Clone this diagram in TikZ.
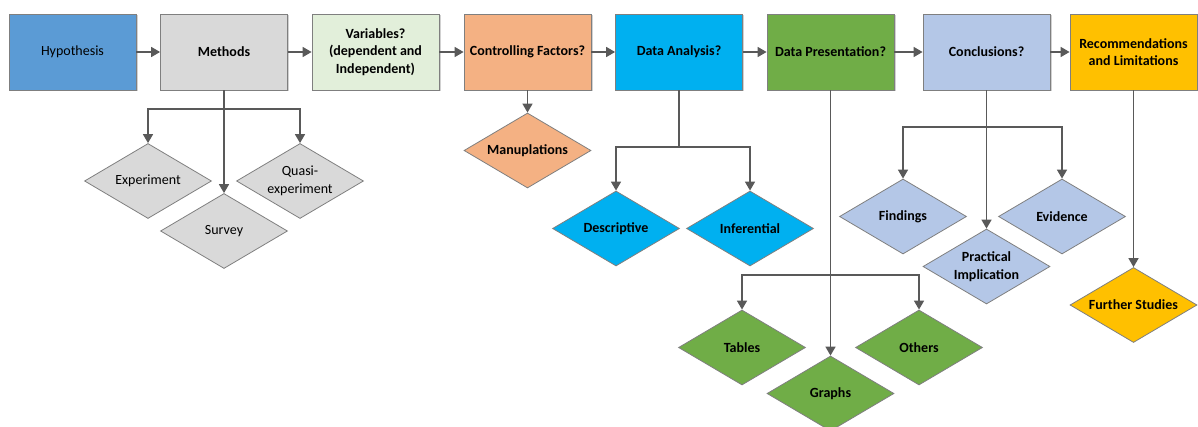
\documentclass[tikz,border=0pt]{standalone}
\usepackage{fontspec}
\setmainfont{Carlito}
\usetikzlibrary{shapes.geometric,arrows.meta,shadows}
\definecolor{boxline}{HTML}{7F7F7F}
\definecolor{conn}{HTML}{595959}
\definecolor{cHyp}{HTML}{5B9BD5}
\definecolor{cMeth}{HTML}{D9D9D9}
\definecolor{cVar}{HTML}{E2EFDA}
\definecolor{cCtrl}{HTML}{F4B183}
\definecolor{cDA}{HTML}{00B0F0}
\definecolor{cDP}{HTML}{70AD47}
\definecolor{cConc}{HTML}{B4C7E7}
\definecolor{cRec}{HTML}{FFC000}
\begin{document}
\begin{tikzpicture}[x=1pt,y=-1pt,
  txt/.style={font=\fontsize{14}{17.5}\selectfont},
  btxt/.style={font=\fontsize{14}{17.5}\selectfont\bfseries},
  box/.style={draw=boxline, line width=0.8pt, minimum width=127pt, minimum height=76pt,
    inner sep=2pt, align=center, btxt,
    drop shadow={shadow xshift=1.5pt, shadow yshift=-1.5pt, opacity=0.18, fill=black}},
  dia/.style={draw=boxline, line width=0.8pt, shape=diamond, minimum width=127pt,
    minimum height=75pt, inner sep=0pt},
  lab/.style={align=center, btxt},
  nlab/.style={align=center, txt},
  ln/.style={draw=conn, line width=1.6pt},
  arr/.style={ln, -{Triangle[length=9pt,width=10pt]}}
]
\useasboundingbox (0,0) rectangle (1198,427);

% main sequence of steps
\node[box, fill=cHyp, txt] (hyp) at (72.5,52) {Hypothesis};
\node[box, fill=cMeth] (meth) at (224,52) {Methods};
\node[box, fill=cVar] (var) at (375.5,52) {Variables?\\(dependent and\\Independent)};
\node[box, fill=cCtrl] (ctrl) at (527.5,52) {Controlling Factors?};
\node[box, fill=cDA] (da) at (679,52) {Data Analysis?};
\node[box, fill=cDP] (dp) at (830.5,52) {Data Presentation?};
\node[box, fill=cConc] (conc) at (986.5,52) {Conclusions?};
\node[box, fill=cRec] (rec) at (1133.5,52) {Recommendations\\and Limitations};

% sub-items
\node[dia, fill=cMeth, label={[nlab]center:Experiment}] (exp) at (148,181) {};
\node[dia, fill=cMeth, label={[nlab]center:Quasi-\\experiment}] (quasi) at (300,181) {};
\node[dia, fill=cMeth, label={[nlab]center:Survey}] (survey) at (224,231) {};

\node[dia, fill=cCtrl, label={[lab]center:Manuplations}] (manu) at (527.5,150.5) {};

\node[dia, fill=cDA, label={[lab]center:Descriptive}] (desc) at (616,228.5) {};
\node[dia, fill=cDA, label={[lab]center:Inferential}] (inf) at (750,228.5) {};

\node[dia, fill=cDP, label={[lab]center:Tables}] (tab) at (742,347.5) {};
\node[dia, fill=cDP, label={[lab]center:Others}] (oth) at (919,347.5) {};
\node[dia, fill=cDP, label={[lab]center:Graphs}] (gra) at (830.5,393.5) {};

\node[dia, fill=cConc, label={[lab]center:Findings}] (find) at (903,216.5) {};
\node[dia, fill=cConc, label={[lab]center:Evidence}] (evid) at (1062,216.5) {};
\node[dia, fill=cConc, label={[lab]center:Practical\\Implication}] (prac) at (986.5,266.5) {};

\node[dia, fill=cRec, label={[lab]center:Further Studies}] (fur) at (1133.5,305) {};

% branch points
\coordinate (mj) at (224,109);
\coordinate (daj) at (679,147);
\coordinate (dpj) at (830.5,275);
\coordinate (cj) at (986.5,127);

% connectors along the sequence
\draw[arr] (hyp) -- (meth);
\draw[arr] (meth) -- (var);
\draw[arr] (var) -- (ctrl);
\draw[arr] (ctrl) -- (da);
\draw[arr] (da) -- (dp);
\draw[arr] (dp) -- (conc);
\draw[arr] (conc) -- (rec);

% connectors to sub-items
\draw[arr] (meth.south) -- (survey.north);
\draw[arr] (mj) -| (exp.north);
\draw[arr] (mj) -| (quasi.north);

\draw[arr] (ctrl.south) -- (manu.north);

\draw[ln] (da.south) -- (daj);
\draw[arr] (daj) -| (desc.north);
\draw[arr] (daj) -| (inf.north);

\draw[arr] (dp.south) -- (gra.north);
\draw[arr] (dpj) -| (tab.north);
\draw[arr] (dpj) -| (oth.north);

\draw[arr] (conc.south) -- (prac.north);
\draw[arr] (cj) -| (find.north);
\draw[arr] (cj) -| (evid.north);

\draw[arr] (rec.south) -- (fur.north);
\end{tikzpicture}
\end{document}
